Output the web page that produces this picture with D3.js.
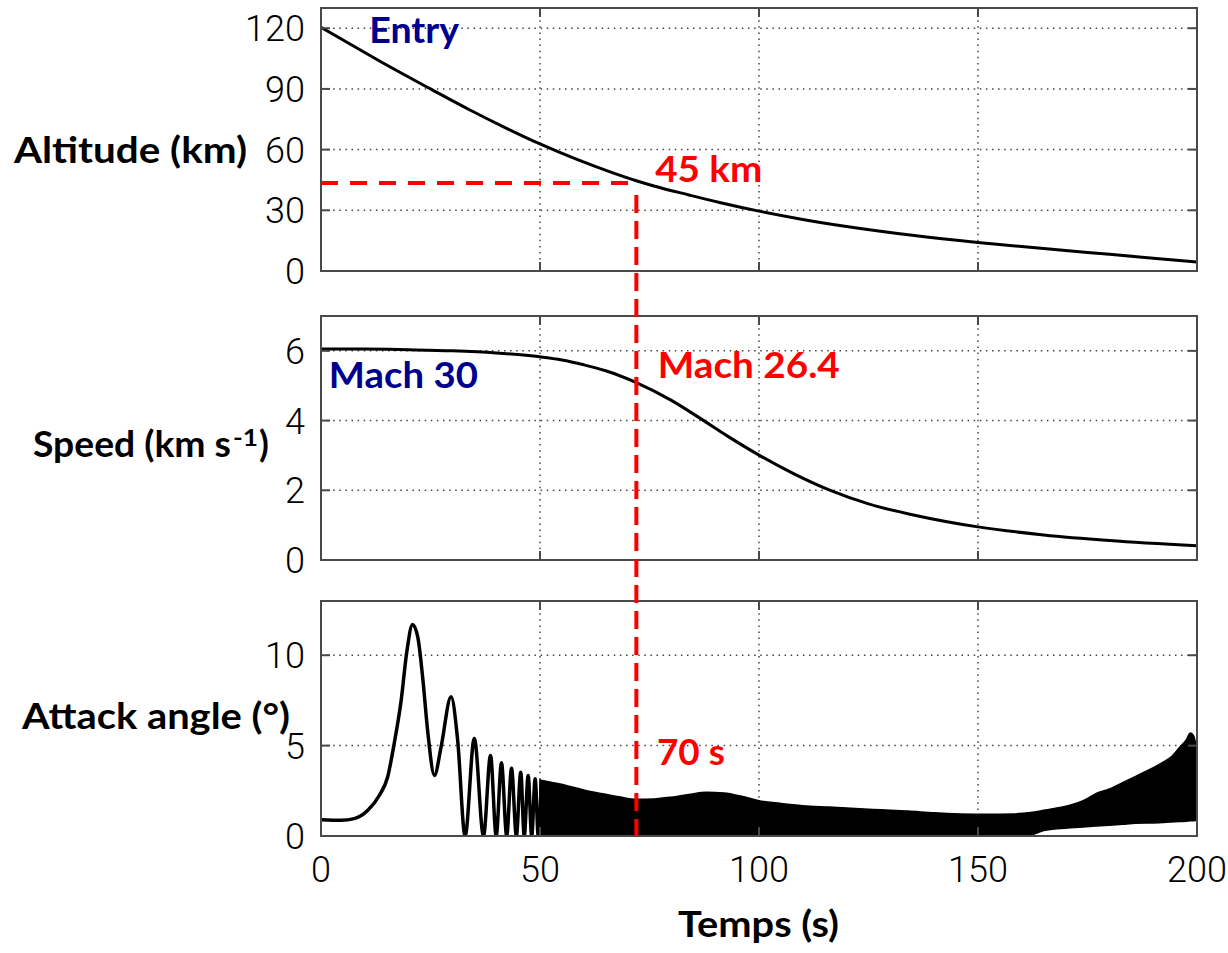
<!DOCTYPE html>
<html>
<head>
<meta charset="utf-8">
<script src="https://cdn.jsdelivr.net/npm/d3@7"></script>
<style>
  body { margin: 0; background: #fff; }
</style>
</head>
<body>
<div id="chart"></div>
<script>

/* **************************** */
// données
var timeTicks = [0, 50, 100, 150, 200];
var altTicks = [0, 30, 60, 90, 120];
var speedTicks = [0, 2, 4, 6];
var angleTicks = [0, 5, 10];

// altitude (km)
var altTime = [0, 8, 15, 25, 34, 42.6, 50, 58, 66, 72, 76, 84, 91, 100, 110, 120, 135, 150, 165, 180, 200];
var altKm   = [120.5, 110.5, 101.8, 90, 79.6, 70.3, 62.8, 55.5, 49, 44.6, 42, 37.6, 33.9, 29.6, 25.5, 22.0, 17.65, 14.1, 11.1, 8.25, 4.45];

// vitesse (km/s)
var speedTime = [0, 10, 20, 30, 40, 50, 55, 60, 65, 72, 80, 86.5, 93, 100, 108, 116, 125, 135, 150, 165, 180, 200];
var speedKms  = [6.05, 6.05, 6.03, 6.0, 5.94, 5.83, 5.74, 5.6, 5.43, 5.09, 4.58, 4.07, 3.54, 3.01, 2.47, 2.01, 1.61, 1.3, 0.95, 0.72, 0.56, 0.41];

// angle d'attaque (deg) - premières oscillations
var angleTime = [0, 4.6, 7.6, 10.7, 13.3, 15.2, 16.7, 18.3, 19.6, 20.9, 22.1, 23.2, 24.4, 25.9, 27.4, 29.7, 31.2, 32.9, 35.0, 37.1, 38.7, 40.0, 41.2, 42.4, 43.5, 44.6, 45.6, 46.4, 47.3, 48.1, 48.9, 49.6, 50.3];
var angleDeg  = [0.9, 0.87, 0.96, 1.42, 2.24, 3.25, 5.1, 7.5, 10.2, 11.7, 11.0, 8.8, 5.7, 3.35, 4.9, 7.7, 5.3, 0, 5.4, 0, 4.45, 0, 4.05, 0, 3.75, 0, 3.53, 0, 3.35, 0, 3.17, 0, 3.07];

// angle d'attaque - bande d'oscillation rapide (enveloppe haute / basse)
var bandTime = [50, 53, 56, 60, 64, 68, 72, 76, 80, 84, 88, 92, 96, 100, 105, 110, 116, 122, 128, 134, 140, 146, 152, 158, 162, 165, 168, 171, 174, 177, 180, 183, 186, 189, 192, 194, 196, 197.5, 198.5, 199.3, 200];
var bandHigh = [3.1, 2.95, 2.8, 2.55, 2.35, 2.17, 2.03, 2.05, 2.15, 2.3, 2.42, 2.38, 2.2, 1.95, 1.8, 1.68, 1.6, 1.52, 1.45, 1.38, 1.28, 1.22, 1.2, 1.22, 1.3, 1.42, 1.55, 1.7, 1.95, 2.35, 2.6, 2.95, 3.3, 3.65, 4.05, 4.35, 4.9, 5.3, 5.7, 5.5, 4.6];
var bandLow  = [0, 0, 0, 0, 0, 0, 0, 0, 0, 0, 0, 0, 0, 0, 0, 0, 0, 0, 0, 0, 0, 0, 0, 0, 0.05, 0.3, 0.4, 0.45, 0.5, 0.55, 0.6, 0.65, 0.7, 0.72, 0.75, 0.78, 0.8, 0.82, 0.84, 0.85, 0.87];

// point de référence (trait rouge)
var refTime = 72;
var refAlt = 43.5;

// annotations
var notes = [
  {panel: "alt", text: "Entry", t: 11, v: 112.7, color: "#00008f", len: 90},
  {panel: "alt", text: "45 km", t: 76.3, v: 44.0, color: "#ff0000", len: 107},
  {panel: "speed", text: "Mach 30", t: 1.8, v: 4.93, color: "#00008f", len: 149},
  {panel: "speed", text: "Mach 26.4", t: 76.9, v: 5.22, color: "#ff0000", len: 182},
  {panel: "angle", text: "70 s", t: 76.7, v: 3.93, color: "#ff0000", len: 68}
];


/* **************************** */
// svg et échelles
var W = 1228, H = 953;
var svg = d3.select("#chart").append("svg")
  .attr("width", W).attr("height", H);

var tickFont = "Roboto, 'Liberation Sans', Arial, sans-serif";
var x = d3.scaleLinear().domain([0, 200]).range([321, 1197]);

var panels = {
  alt:   {y: d3.scaleLinear().domain([0, 130]).range([271, 8]),  ticks: altTicks,   top: 8,   bottom: 271},
  speed: {y: d3.scaleLinear().domain([0, 7]).range([560, 316]),  ticks: speedTicks, top: 316, bottom: 560},
  angle: {y: d3.scaleLinear().domain([0, 13]).range([836, 601]), ticks: angleTicks, top: 601, bottom: 836}
};

var frameColor = "#4a4a4a";
var tickLen = 9;

function drawPanel(name, p, xLabels) {
  var g = svg.append("g").attr("class", "panel-" + name);

  g.append("clipPath").attr("id", "clip-" + name)
    .append("rect")
    .attr("x", x(0)).attr("y", p.top)
    .attr("width", x(200) - x(0)).attr("height", p.bottom - p.top);

  // grille pointillée
  g.selectAll(".vgrid").data(timeTicks.slice(1, -1)).enter().append("line")
    .attr("x1", d => x(d)).attr("x2", d => x(d))
    .attr("y1", p.top).attr("y2", p.bottom)
    .attr("stroke", "#444").attr("stroke-width", 1.5)
    .attr("stroke-dasharray", "1.5,4.6");
  g.selectAll(".hgrid").data(p.ticks.slice(1)).enter().append("line")
    .attr("x1", x(0)).attr("x2", x(200))
    .attr("y1", d => p.y(d)).attr("y2", d => p.y(d))
    .attr("stroke", "#444").attr("stroke-width", 1.5)
    .attr("stroke-dasharray", "1.5,4.6");

  g.append("g").attr("class", "plot").attr("clip-path", "url(#clip-" + name + ")");

  // ticks vers l'intérieur
  var yt = p.ticks.slice(1);
  g.selectAll(".ytl").data(yt).enter().append("line")
    .attr("x1", x(0)).attr("x2", x(0) + tickLen)
    .attr("y1", d => p.y(d)).attr("y2", d => p.y(d))
    .attr("stroke", frameColor).attr("stroke-width", 2);
  g.selectAll(".ytr").data(yt).enter().append("line")
    .attr("x1", x(200) - tickLen).attr("x2", x(200))
    .attr("y1", d => p.y(d)).attr("y2", d => p.y(d))
    .attr("stroke", frameColor).attr("stroke-width", 2);
  var xt = timeTicks.slice(1, -1);
  g.selectAll(".xtt").data(xt).enter().append("line")
    .attr("x1", d => x(d)).attr("x2", d => x(d))
    .attr("y1", p.top).attr("y2", p.top + tickLen)
    .attr("stroke", frameColor).attr("stroke-width", 2);
  g.selectAll(".xtb").data(xt).enter().append("line")
    .attr("x1", d => x(d)).attr("x2", d => x(d))
    .attr("y1", p.bottom - tickLen).attr("y2", p.bottom)
    .attr("stroke", frameColor).attr("stroke-width", 2);

  // cadre
  g.append("rect")
    .attr("x", x(0)).attr("y", p.top)
    .attr("width", x(200) - x(0)).attr("height", p.bottom - p.top)
    .attr("fill", "none").attr("stroke", frameColor).attr("stroke-width", 2);

  // labels des ticks y
  g.selectAll(".ylab").data(p.ticks).enter().append("text")
    .attr("x", 305).attr("y", d => p.y(d) + 13)
    .attr("text-anchor", "end")
    .attr("font-family", tickFont).attr("font-weight", 300)
    .attr("font-size", 36).attr("fill", "#000")
    .text(d => d);

  if (xLabels) {
    g.selectAll(".xlab").data(timeTicks).enter().append("text")
      .attr("x", d => x(d)).attr("y", 882)
      .attr("text-anchor", "middle")
      .attr("font-family", tickFont).attr("font-weight", 300)
      .attr("font-size", 36).attr("fill", "#000")
      .text(d => d);
  }
  return g.select(".plot");
}

var altPlot = drawPanel("alt", panels.alt, false);
var speedPlot = drawPanel("speed", panels.speed, false);
var anglePlot = drawPanel("angle", panels.angle, true);


/* **************************** */
// courbes
var altLine = d3.line()
  .x((d, i) => x(altTime[i]))
  .y(d => panels.alt.y(d))
  .curve(d3.curveMonotoneX);
altPlot.append("path")
  .attr("d", altLine(altKm))
  .attr("fill", "none").attr("stroke", "#000").attr("stroke-width", 3);

var speedLine = d3.line()
  .x((d, i) => x(speedTime[i]))
  .y(d => panels.speed.y(d))
  .curve(d3.curveMonotoneX);
speedPlot.append("path")
  .attr("d", speedLine(speedKms))
  .attr("fill", "none").attr("stroke", "#000").attr("stroke-width", 3);

var angleLine = d3.line()
  .x((d, i) => x(angleTime[i]))
  .y(d => panels.angle.y(d))
  .curve(d3.curveMonotoneX);
anglePlot.append("path")
  .attr("d", angleLine(angleDeg))
  .attr("fill", "none").attr("stroke", "#000").attr("stroke-width", 3.5)
  .attr("stroke-linejoin", "round");

var band = d3.area()
  .x((d, i) => x(bandTime[i]))
  .y0((d, i) => panels.angle.y(bandLow[i]))
  .y1(d => panels.angle.y(d))
  .curve(d3.curveMonotoneX);
anglePlot.append("path")
  .attr("d", band(bandHigh))
  .attr("fill", "#000").attr("stroke", "#000").attr("stroke-width", 1.5);


/* **************************** */
// traits rouges
svg.append("line")
  .attr("x1", x(0)).attr("x2", x(refTime))
  .attr("y1", panels.alt.y(refAlt)).attr("y2", panels.alt.y(refAlt))
  .attr("stroke", "#ff0000").attr("stroke-width", 4)
  .attr("stroke-dasharray", "17,12");
svg.append("line")
  .attr("x1", x(refTime)).attr("x2", x(refTime))
  .attr("y1", panels.alt.y(refAlt) + 12).attr("y2", panels.angle.y(0))
  .attr("stroke", "#ff0000").attr("stroke-width", 4)
  .attr("stroke-dasharray", "18,8");


/* **************************** */
// textes
var bold = "Lato, 'Open Sans', 'DejaVu Sans', sans-serif";

svg.selectAll(".note").data(notes).enter().append("text")
  .attr("x", d => x(d.t))
  .attr("y", d => panels[d.panel].y(d.v))
  .attr("font-family", bold).attr("font-weight", 700).attr("font-size", 36)
  .attr("fill", d => d.color)
  .attr("textLength", d => d.len).attr("lengthAdjust", "spacingAndGlyphs")
  .text(d => d.text);

function label(txt, px, py, len, size) {
  var t = svg.append("text")
    .attr("x", px).attr("y", py)
    .attr("font-family", bold).attr("font-weight", 700).attr("font-size", size || 36)
    .attr("fill", "#000")
    .text(txt);
  if (len) t.attr("textLength", len).attr("lengthAdjust", "spacingAndGlyphs");
  return t;
}
label("Altitude (km)", 14, 163, 233);
label("Speed (km s", 33, 457, 198);
label("-1", 233, 446, 25, 22);
label(")", 259, 457, null);
label("Attack angle (°)", 22, 729, 268);
label("Temps (s)", 678, 937, 161);

</script>
</body>
</html>
